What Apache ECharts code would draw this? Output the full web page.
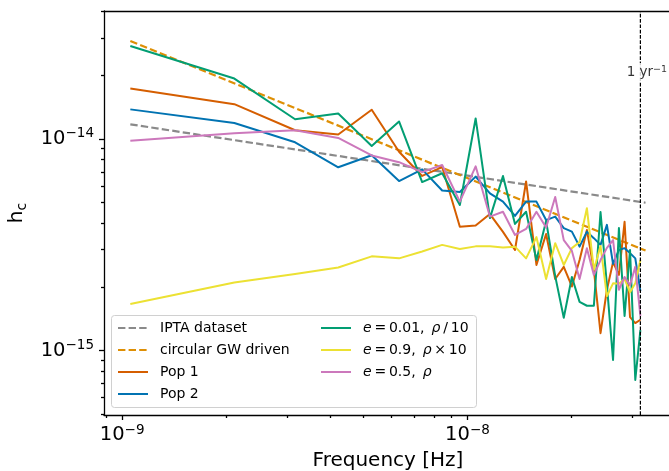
<!DOCTYPE html>
<html>
<head>
<meta charset="utf-8">
<script src="https://cdn.jsdelivr.net/npm/echarts@6/dist/echarts.min.js"></script>
<style>
  html, body { margin: 0; padding: 0; background: #fff; }
  #chart { width: 669px; height: 471px; }
</style>
</head>
<body>
<div id="chart"></div>
<script>
// Frequency bins f_i = i / T with T = 30 yr (last bin sits at 1/yr)
const freqs = [
  1.056e-9, 2.113e-9, 3.169e-9, 4.225e-9, 5.282e-9, 6.338e-9, 7.394e-9, 8.450e-9, 9.507e-9, 1.0563e-8,
  1.1619e-8, 1.2676e-8, 1.3732e-8, 1.4788e-8, 1.5844e-8, 1.6901e-8, 1.7957e-8, 1.9013e-8, 2.0070e-8, 2.1126e-8,
  2.2182e-8, 2.3239e-8, 2.4295e-8, 2.5351e-8, 2.6408e-8, 2.7464e-8, 2.8520e-8, 2.9576e-8, 3.0633e-8, 3.1689e-8
];

// Characteristic strain per population
const pop1 = [
  1.73e-14, 1.46e-14, 1.10e-14, 1.05e-14, 1.375e-14, 8.71e-15, 6.69e-15, 7.37e-15, 3.85e-15, 3.90e-15,
  4.42e-15, 3.64e-15, 2.99e-15, 6.30e-15, 2.54e-15, 3.56e-15, 2.18e-15, 2.49e-15, 2.01e-15, 2.68e-15,
  3.72e-15, 2.41e-15, 1.21e-15, 1.94e-15, 2.62e-15, 2.28e-15, 4.06e-15, 1.44e-15, 1.35e-15, 1.40e-15
];
const pop2 = [
  1.38e-14, 1.19e-14, 9.65e-15, 7.35e-15, 8.38e-15, 6.33e-15, 7.19e-15, 5.71e-15, 5.62e-15, 6.64e-15,
  5.54e-15, 5.06e-15, 4.33e-15, 5.06e-15, 5.06e-15, 4.14e-15, 4.30e-15, 3.79e-15, 3.65e-15, 3.10e-15,
  3.65e-15, 3.40e-15, 3.16e-15, 3.93e-15, 2.57e-15, 2.99e-15, 3.05e-15, 2.89e-15, 2.73e-15, 1.91e-15
];
const ecc001 = [
  2.75e-14, 1.93e-14, 1.24e-14, 1.32e-14, 9.27e-15, 1.21e-14, 6.26e-15, 6.89e-15, 4.88e-15, 1.25e-14,
  4.23e-15, 6.69e-15, 3.97e-15, 4.53e-15, 2.68e-15, 4.10e-15, 2.25e-15, 1.43e-15, 2.23e-15, 1.70e-15,
  1.63e-15, 1.63e-15, 4.52e-15, 2.04e-15, 9.04e-16, 3.80e-15, 1.46e-15, 2.99e-15, 7.27e-16, 1.25e-15
];
const ecc09 = [
  1.66e-15, 2.10e-15, 2.30e-15, 2.47e-15, 2.79e-15, 2.73e-15, 2.94e-15, 3.16e-15, 3.02e-15, 3.11e-15,
  3.11e-15, 3.07e-15, 3.10e-15, 2.73e-15, 3.44e-15, 2.18e-15, 3.22e-15, 2.54e-15, 3.05e-15, 3.26e-15,
  4.71e-15, 2.41e-15, 3.12e-15, 1.81e-15, 2.08e-15, 2.07e-15, 2.18e-15, 1.89e-15, 2.08e-15, 2.68e-15
];
const ecc05 = [
  9.82e-15, 1.064e-14, 1.099e-14, 1.011e-14, 8.36e-15, 7.77e-15, 6.97e-15, 7.54e-15, 5.06e-15, 7.43e-15,
  4.30e-15, 4.53e-15, 3.52e-15, 3.76e-15, 4.53e-15, 3.82e-15, 5.32e-15, 3.33e-15, 2.96e-15, 2.18e-15,
  3.05e-15, 2.28e-15, 2.68e-15, 3.06e-15, 3.33e-15, 1.94e-15, 2.23e-15, 2.04e-15, 2.49e-15, 1.46e-15
];

// Reference power laws (end points)
const lawFreqs = [1.056e-9, 3.28e-8];
const iptaVals = [1.173e-14, 5.00e-15];
const circVals = [2.904e-14, 2.97e-15];

// 1/yr marker
const fYear = 3.169e-8;
const yearLabelPos = [3.31e-8, 2.07e-14];

// Axis ranges and tick values
const xRange = [8.86e-10, 3.913e-8];
const yRange = [4.967e-16, 4.024e-14];
const xMajor = [1e-9, 1e-8];
const xMinor = [9e-10, 2e-9, 3e-9, 4e-9, 5e-9, 6e-9, 7e-9, 8e-9, 9e-9, 2e-8, 3e-8];
const yMajor = [1e-15, 1e-14];
const yMinor = [5e-16, 6e-16, 7e-16, 8e-16, 9e-16, 2e-15, 3e-15, 4e-15, 5e-15, 6e-15, 7e-15, 8e-15, 9e-15, 2e-14, 3e-14, 4e-14];

const FONT = 'DejaVu Sans';
const zip = (xs, ys) => xs.map((x, i) => [x, ys[i]]);

const powRich = {
  b: { fontFamily: FONT, fontSize: 19.5, color: '#000', lineHeight: 24 },
  s: { fontFamily: FONT, fontSize: 13.5, color: '#000', lineHeight: 14, verticalAlign: 'top' }
};
const powLabel = v => '{b|10}{s|\u2212' + Math.abs(Math.round(Math.log10(v))) + '}';

const spine = { color: '#000', width: 1.3 };

function majorAxis(extra) {
  return Object.assign({
    type: 'log', logBase: 10,
    axisLine: { show: true, onZero: false, lineStyle: spine },
    axisTick: { show: true, length: 5, lineStyle: spine },
    splitLine: { show: false },
    minorTick: { show: false },
    minorSplitLine: { show: false }
  }, extra);
}
function minorAxis(extra) {
  return Object.assign({
    type: 'log', logBase: 10,
    axisLine: { show: false },
    axisLabel: { show: false },
    splitLine: { show: false }
  }, extra);
}

const lineSeries = (name, data, color, dashed) => ({
  name, type: 'line', data, symbol: 'none', showSymbol: false,
  xAxisIndex: 0, yAxisIndex: 0,
  lineStyle: { color, width: dashed ? 2.2 : 2, type: dashed ? [7.4, 3.2] : 'solid', join: 'round', cap: 'butt' },
  itemStyle: { color },
  emphasis: { disabled: true },
  animation: false
});

const eccLabels = {
  'e=0.01': '{i|e}\u2009=\u20090.01,\u2002{i|\u03c1}\u2009/\u200910',
  'e=0.9': '{i|e}\u2009=\u20090.9,\u2002{i|\u03c1}\u2009\u00d7\u200910',
  'e=0.5': '{i|e}\u2009=\u20090.5,\u2002{i|\u03c1}'
};
const legendText = {
  fontFamily: FONT, fontSize: 14, color: '#000', padding: [0, 0, 0, 7],
  rich: { i: { fontFamily: FONT, fontSize: 14, fontStyle: 'italic', color: '#000' } }
};
const legendBase = {
  orient: 'vertical', padding: 0, itemWidth: 30, itemHeight: 14, itemGap: 8,
  top: 321, selectedMode: false, textStyle: legendText, z: 10,
  itemStyle: { opacity: 0 }
};

const series = [
  lineSeries('IPTA dataset', zip(lawFreqs, iptaVals), '#8a8a8a', true),
  lineSeries('circular GW driven', zip(lawFreqs, circVals), '#de8f05', true),
  lineSeries('Pop 1', zip(freqs, pop1), '#d55e00', false),
  lineSeries('Pop 2', zip(freqs, pop2), '#0173b2', false),
  lineSeries('e=0.01', zip(freqs, ecc001), '#029e73', false),
  lineSeries('e=0.9', zip(freqs, ecc09), '#ece133', false),
  lineSeries('e=0.5', zip(freqs, ecc05), '#cc78bc', false)
];
// vertical guide at one cycle per year
series.push({
  type: 'line', name: '1/yr', symbol: 'none', showSymbol: false, silent: true, animation: false,
  xAxisIndex: 0, yAxisIndex: 0, z: 3,
  data: [[fYear, yRange[0]], [fYear, yRange[1]]],
  lineStyle: { color: '#000', width: 1.2, type: [3.7, 1.6], cap: 'butt' }
});
series.push({
  type: 'scatter', name: 'yr', data: [yearLabelPos], symbolSize: 0,
  xAxisIndex: 0, yAxisIndex: 0, silent: true, animation: false, z: 5,
  label: {
    show: true, position: 'inside', backgroundColor: '#fff', padding: [1, 0],
    formatter: '{a|1 yr}{s|\u22121}',
    rich: {
      a: { fontFamily: FONT, fontSize: 13.5, color: '#000', lineHeight: 16 },
      s: { fontFamily: FONT, fontSize: 9.5, color: '#000', lineHeight: 10, verticalAlign: 'top' }
    }
  }
});

const chart = echarts.init(document.getElementById('chart'), null, { renderer: 'canvas' });
chart.setOption({
  animation: false,
  backgroundColor: '#fff',
  grid: { left: 104, top: 11, width: 568, height: 404, containLabel: false, outerBoundsMode: 'none' },
  xAxis: [
    majorAxis({
      min: xRange[0], max: xRange[1], position: 'bottom',
      axisTick: { show: true, length: 5, lineStyle: spine, customValues: xMajor },
      axisLabel: { customValues: xMajor, formatter: powLabel, margin: 8, rich: powRich },
      name: 'Frequency [Hz]', nameLocation: 'middle', nameGap: 36,
      nameTextStyle: { fontFamily: FONT, fontSize: 20, color: '#000' }
    }),
    minorAxis({
      min: xRange[0], max: xRange[1], position: 'bottom',
      axisTick: { show: true, length: 3, lineStyle: spine, customValues: xMinor }
    }),
    minorAxis({
      min: xRange[0], max: xRange[1], position: 'top',
      axisLine: { show: true, onZero: false, lineStyle: spine },
      axisTick: { show: false }
    })
  ],
  yAxis: [
    majorAxis({
      min: yRange[0], max: yRange[1], position: 'left',
      axisTick: { show: true, length: 5, lineStyle: spine, customValues: yMajor },
      axisLabel: { customValues: yMajor, formatter: powLabel, margin: 10, rich: powRich },
      name: '{h|h}{c|c}', nameLocation: 'middle', nameGap: 65,
      nameTextStyle: {
        rich: {
          h: { fontFamily: FONT, fontSize: 20, color: '#000', lineHeight: 26 },
          c: { fontFamily: FONT, fontSize: 14, color: '#000', lineHeight: 14, verticalAlign: 'bottom' }
        }
      }
    }),
    minorAxis({
      min: yRange[0], max: yRange[1], position: 'left',
      axisTick: { show: true, length: 3, lineStyle: spine, customValues: yMinor }
    })
  ],
  legend: [
    Object.assign({}, legendBase, {
      left: 117, data: ['IPTA dataset', 'circular GW driven', 'Pop 1', 'Pop 2']
    }),
    Object.assign({}, legendBase, {
      left: 320, data: ['e=0.01', 'e=0.9', 'e=0.5'],
      formatter: name => eccLabels[name]
    })
  ],
  graphic: [{
    type: 'rect', left: 111, top: 315, z: 8, silent: true,
    shape: { width: 365, height: 92, r: 3 },
    style: { fill: 'rgba(255,255,255,0.8)', stroke: '#d0d0d0', lineWidth: 1 }
  }],
  series
});
</script>
</body>
</html>
